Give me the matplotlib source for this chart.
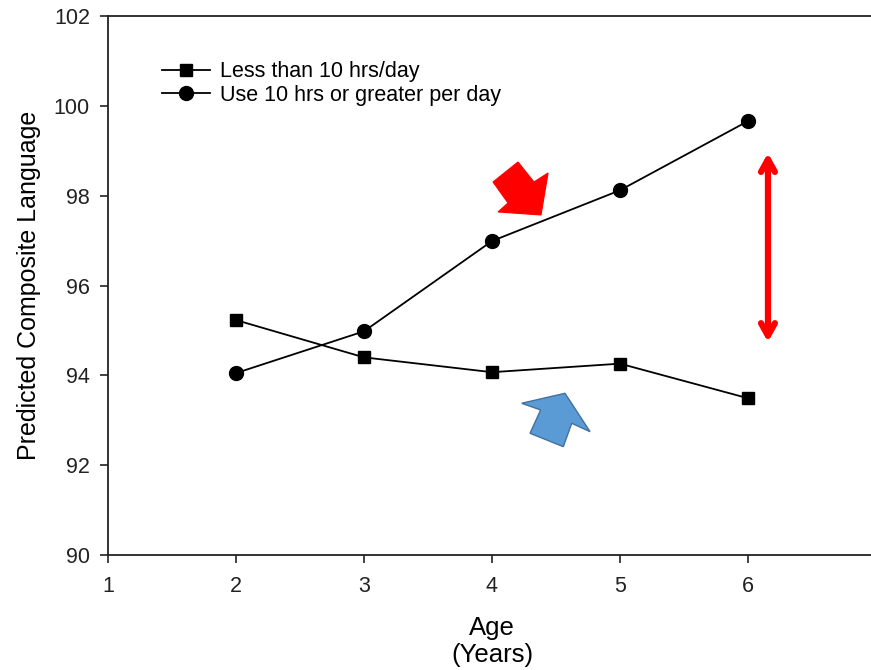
import matplotlib
matplotlib.use("Agg")
import matplotlib.pyplot as plt
from matplotlib.patches import Polygon

plt.rcParams['font.family'] = ['Liberation Sans', 'DejaVu Sans']

# Predicted composite language score by age
ages = [2, 3, 4, 5, 6]
less_than_10 = [95.23, 94.40, 94.07, 94.26, 93.49]
ten_or_more = [94.05, 94.98, 96.99, 98.12, 99.66]
series_labels = ["Less than 10 hrs/day", "Use 10 hrs or greater per day"]
x_ticks = [1, 2, 3, 4, 5, 6, 7]
y_ticks = [90, 92, 94, 96, 98, 100, 102]

fig = plt.figure(figsize=(8.71, 6.70), dpi=100)
ax = fig.add_axes([108 / 871, 1 - 555 / 670, 768 / 871, 539 / 670])

ax.plot(ages, less_than_10, color='black', lw=1.3, marker='s', ms=8.5,
        label=series_labels[0])
ax.plot(ages, ten_or_more, color='black', lw=1.3, marker='o', ms=10,
        label=series_labels[1])

ax.set_xlim(1, 7)
ax.set_ylim(90, 102)
ax.set_xticks(x_ticks)
ax.set_yticks(y_ticks)
ax.tick_params(axis='both', direction='out', length=6, width=1.2,
               labelsize=15.5, colors='#222222')
ax.tick_params(axis='y', pad=7)
ax.tick_params(axis='x', pad=9)
for side in ['left', 'bottom', 'top']:
    ax.spines[side].set_linewidth(1.3)
    ax.spines[side].set_color('#222222')
ax.spines['right'].set_visible(False)

ax.set_ylabel("Predicted Composite Language", fontsize=18, labelpad=9)
ax.set_xlabel("Age\n(Years)", fontsize=18.5, labelpad=14, linespacing=1.15)

leg = ax.legend(loc='upper left', bbox_to_anchor=(0.059, 0.932), frameon=False,
                fontsize=15.5, handlelength=2.23, handletextpad=0.46,
                labelspacing=0.12, borderaxespad=0)

# Highlight arrows
red_block = [(4.008, 98.305), (4.203, 98.750), (4.328, 98.305), (4.438, 98.505),
             (4.383, 97.570), (4.047, 97.637), (4.125, 97.837)]
ax.add_patch(Polygon(red_block, closed=True, facecolor='#FF0000',
                     edgecolor='#FF0000', lw=0.8, zorder=3))

blue_block = [(4.232, 93.378), (4.570, 93.600), (4.766, 92.746), (4.623, 92.933),
              (4.557, 92.412), (4.297, 92.710), (4.380, 93.229)]
ax.add_patch(Polygon(blue_block, closed=True, facecolor='#5B9BD5',
                     edgecolor='#41719C', lw=1.0, zorder=3))

ax.annotate("", xy=(6.156, 98.95), xytext=(6.156, 94.74),
            arrowprops=dict(arrowstyle='<->,head_length=0.9,head_width=0.5',
                            color='#FF0000', lw=4.5, capstyle='round',
                            joinstyle='round', shrinkA=0, shrinkB=0))

fig.savefig("out.png", dpi=100)
